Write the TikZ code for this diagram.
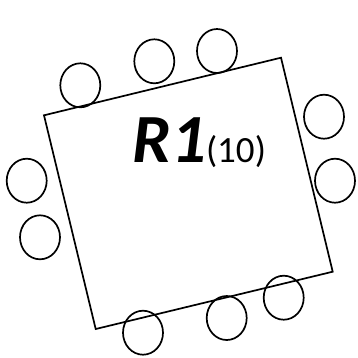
\documentclass[tikz,border=0pt]{standalone}
\usepackage{fontspec}
\setmainfont{Carlito}
\usetikzlibrary{shapes.geometric}
\begin{document}
\begin{tikzpicture}[x=1pt,y=-1pt,
  chair/.style={draw,line width=1.7pt,ellipse,minimum width=40pt,minimum height=44pt,inner sep=0pt},
  tablebox/.style={draw,line width=1.7pt,line join=miter}]
\useasboundingbox (0,0) rectangle (358,357);
\coordinate (t1) at (44,115.3);
\coordinate (t2) at (281,57.7);
\coordinate (t3) at (332.7,271.7);
\coordinate (t4) at (95.7,329);
\draw[tablebox] (t1) -- (t2) -- (t3) -- (t4) -- cycle;
\node[chair] (c1) at (80.3,85.3) {};
\node[chair] (c2) at (154.3,61.3) {};
\node[chair] (c3) at (217,51) {};
\node[chair] (c4) at (324,116.7) {};
\node[chair] (c5) at (335,180.7) {};
\node[chair] (c6) at (26.7,180.7) {};
\node[chair] (c7) at (40,237.3) {};
\node[chair] (c8) at (143,332.7) {};
\node[chair] (c9) at (226.7,318) {};
\node[chair] (c10) at (283.7,297.7) {};
\node[anchor=base west,inner sep=0pt] (lbl) at (132,162.7) {\fontsize{69}{69}\selectfont\bfseries\itshape R1\fontsize{37}{37}\selectfont\mdseries\upshape(10)};
\end{tikzpicture}
\end{document}
